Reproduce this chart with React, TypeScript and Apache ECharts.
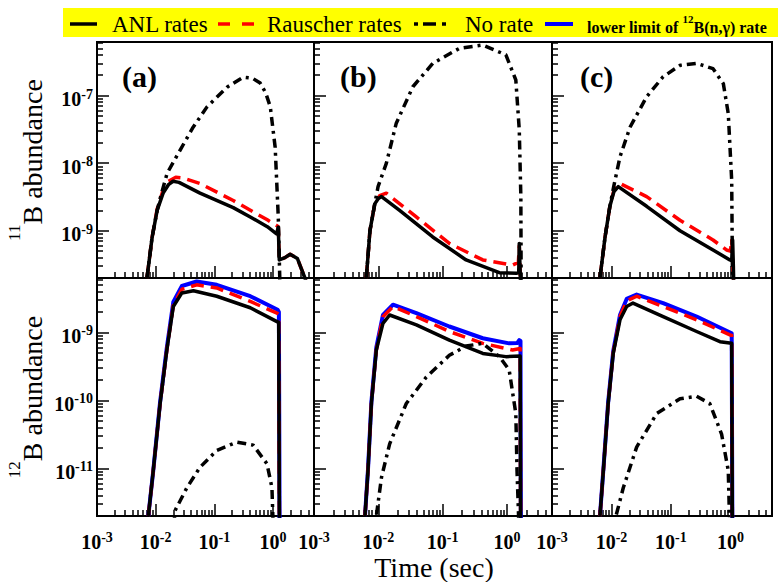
import React, { useEffect, useRef } from "react";
import * as echarts from "echarts";

// ---------- axis ranges and tick values ----------
const X_RANGE = [0.001, 5];
const Y_RANGE_11B = [2e-10, 6.2e-7];
const Y_RANGE_12B = [2e-12, 6.3e-9];
const X_MAJOR = [0.001, 0.01, 0.1, 1];
const Y_MAJOR_11B = [1e-9, 1e-8, 1e-7];
const Y_MAJOR_12B = [1e-11, 1e-10, 1e-9];
const PANEL_TAGS = ["(a)", "(b)", "(c)"];
const LEGEND_NAMES = ["ANL rates", "Rauscher rates", "No rate", "lower limit of 12B(n,γ) rate"];

// ---------- 11B abundance (top row): [time (s), abundance] ----------
const B11_ANL_a = [
  [0.0071, 2.0e-10], [0.008, 4.5e-10], [0.0087, 8.0e-10], [0.0106, 2.0e-9], [0.0134, 3.6e-9],
  [0.0165, 4.8e-9], [0.0198, 5.4e-9], [0.025, 5.2e-9], [0.057, 3.6e-9], [0.21, 2.2e-9],
  [0.41, 1.6e-9], [0.8, 1.15e-9], [1.15, 9.0e-10], [1.23, 1.13e-9], [1.28, 3.7e-10],
  [1.6, 4.0e-10], [1.96, 4.5e-10], [2.6, 3.9e-10], [3.5, 2.0e-10], [3.9, 1.5e-10],
];
const B11_RAU_a = [
  [0.0071, 2.0e-10], [0.008, 4.5e-10], [0.0087, 8.0e-10], [0.0106, 2.1e-9], [0.0134, 4.0e-9],
  [0.0165, 5.4e-9], [0.022, 6.2e-9], [0.03, 6.0e-9], [0.057, 5.0e-9], [0.21, 2.8e-9],
  [0.8, 1.45e-9], [1.15, 1.2e-9], [1.23, 1.15e-9], [1.28, 3.7e-10], [1.6, 4.0e-10],
  [1.96, 4.5e-10], [2.6, 3.9e-10], [3.5, 2.0e-10], [3.9, 1.5e-10],
];
const B11_NO_a = [
  [0.0071, 2.0e-10], [0.008, 4.5e-10], [0.0087, 8.0e-10], [0.0106, 2.0e-9], [0.0125, 3.5e-9],
  [0.0157, 7.1e-9], [0.026, 1.55e-8], [0.0435, 3.4e-8], [0.075, 6.8e-8], [0.165, 1.33e-7],
  [0.31, 1.87e-7], [0.45, 1.8e-7], [0.605, 1.53e-7], [0.75, 1.1e-7], [0.9, 6.8e-8],
  [1.09, 1.7e-8], [1.23, 1.6e-9], [1.33, 1.0e-10],
];
const B11_ANL_b = [
  [0.0065, 2.0e-10], [0.0074, 1.0e-9], [0.0088, 2.5e-9], [0.01, 3.0e-9], [0.0112, 3.2e-9],
  [0.0214, 2.0e-9], [0.07, 8.1e-10], [0.231, 3.7e-10], [0.76, 2.4e-10], [1.4, 2.35e-10],
  [1.52, 2.4e-10], [1.55, 6.5e-10], [1.6, 2.5e-10], [1.64, 1.0e-10],
];
const B11_RAU_b = [
  [0.0065, 2.0e-10], [0.0074, 1.0e-9], [0.0088, 2.5e-9], [0.0105, 3.3e-9], [0.0133, 3.6e-9],
  [0.0389, 1.6e-9], [0.127, 6.5e-10], [0.42, 3.7e-10], [1.22, 3.1e-10], [1.5, 3.4e-10],
  [1.55, 6.0e-10], [1.6, 2.5e-10], [1.64, 1.0e-10],
];
const B11_NO_b = [
  [0.0065, 2.0e-10], [0.0074, 1.0e-9], [0.0088, 2.5e-9], [0.0099, 4.5e-9], [0.0133, 9.9e-9],
  [0.019, 3.9e-8], [0.0344, 1.35e-7], [0.0703, 3.0e-7], [0.182, 5.0e-7], [0.42, 5.6e-7],
  [0.96, 4.0e-7], [1.37, 1.7e-7], [1.55, 3.1e-8], [1.64, 3.2e-9], [1.66, 1.0e-10],
];
const B11_ANL_c = [
  [0.0064, 2.0e-10], [0.0078, 8.1e-10], [0.0094, 2.3e-9], [0.011, 3.8e-9], [0.013, 4.5e-9],
  [0.039, 2.3e-9], [0.142, 1.0e-9], [0.51, 5.2e-10], [0.98, 3.7e-10], [1.05, 3.6e-10],
  [1.09, 7.3e-10], [1.12, 3.0e-10], [1.15, 1.0e-10],
];
const B11_RAU_c = [
  [0.0064, 2.0e-10], [0.0078, 8.1e-10], [0.0094, 2.3e-9], [0.011, 4.0e-9], [0.0139, 5.0e-9],
  [0.039, 3.2e-9], [0.142, 1.43e-9], [0.51, 7.3e-10], [0.86, 5.2e-10], [1.0, 5.0e-10],
  [1.05, 7.5e-10], [1.1, 3.0e-10], [1.15, 1.0e-10],
];
const B11_NO_c = [
  [0.0064, 2.0e-10], [0.0078, 8.1e-10], [0.0094, 2.3e-9], [0.0109, 4.5e-9], [0.0139, 1.24e-8],
  [0.0205, 3.4e-8], [0.039, 9.6e-8], [0.074, 1.9e-7], [0.142, 2.8e-7], [0.27, 3.0e-7],
  [0.51, 2.5e-7], [0.76, 1.5e-7], [0.92, 5.4e-8], [1.05, 5.6e-9], [1.09, 1.0e-10],
];

// ---------- 12B abundance (bottom row) ----------
const B12_ANL_a = [
  [0.0075, 2.0e-12], [0.0091, 9.3e-12], [0.0119, 9.0e-11], [0.0155, 5.5e-10], [0.02, 2.4e-9],
  [0.028, 3.8e-9], [0.044, 4.1e-9], [0.11, 3.4e-9], [0.41, 2.3e-9], [1.17, 1.44e-9],
  [1.25, 1.4e-9], [1.3, 1.0e-13],
];
const B12_RAU_a = [
  [0.0075, 2.0e-12], [0.0091, 9.3e-12], [0.0119, 9.0e-11], [0.0155, 5.5e-10], [0.02, 2.5e-9],
  [0.028, 4.3e-9], [0.05, 5.0e-9], [0.11, 4.5e-9], [0.41, 2.85e-9], [1.17, 1.92e-9],
  [1.25, 1.85e-9], [1.3, 1.0e-13],
];
const B12_LOW_a = [
  [0.0075, 2.0e-12], [0.0091, 9.3e-12], [0.0119, 9.5e-11], [0.0155, 6.0e-10], [0.02, 2.8e-9],
  [0.028, 4.8e-9], [0.05, 5.6e-9], [0.11, 5.0e-9], [0.41, 3.4e-9], [1.2, 2.15e-9],
  [1.26, 2.0e-9], [1.31, 1.0e-13],
];
const B12_NO_a = [
  [0.0205, 1.5e-12], [0.0214, 2.4e-12], [0.034, 5.2e-12], [0.057, 1.04e-11], [0.11, 1.84e-11],
  [0.242, 2.44e-11], [0.46, 2.2e-11], [0.79, 1.17e-11], [0.96, 5.2e-12], [1.02, 1.0e-12],
];
const B12_ANL_b = [
  [0.0062, 2.0e-12], [0.0069, 9.3e-12], [0.0078, 9.0e-11], [0.0093, 5.5e-10], [0.0118, 1.36e-9],
  [0.015, 1.8e-9], [0.039, 1.29e-9], [0.127, 7.7e-10], [0.42, 4.9e-10], [0.96, 4.4e-10],
  [1.6, 4.5e-10], [1.64, 1.0e-13],
];
const B12_RAU_b = [
  [0.0062, 2.0e-12], [0.0069, 9.3e-12], [0.0078, 9.0e-11], [0.0093, 5.5e-10], [0.0118, 1.7e-9],
  [0.0169, 2.4e-9], [0.039, 1.71e-9], [0.127, 1.03e-9], [0.42, 6.9e-10], [1.22, 5.5e-10],
  [1.6, 5.8e-10], [1.64, 1.0e-13],
];
const B12_LOW_b = [
  [0.0062, 2.0e-12], [0.0069, 9.5e-12], [0.0078, 9.5e-11], [0.0093, 6.0e-10], [0.0118, 1.8e-9],
  [0.0169, 2.55e-9], [0.039, 1.92e-9], [0.127, 1.22e-9], [0.42, 8.2e-10], [1.08, 6.9e-10],
  [1.45, 7.0e-10], [1.55, 7.7e-10], [1.62, 7.5e-10], [1.65, 1.0e-13],
];
const B12_NO_b = [
  [0.009, 1.0e-12], [0.0093, 2.0e-12], [0.0112, 7.4e-12], [0.015, 2.3e-11], [0.0272, 9.0e-11],
  [0.0556, 2.2e-10], [0.127, 4.6e-10], [0.231, 6.3e-10], [0.42, 6.9e-10], [0.76, 4.4e-10],
  [1.08, 2.8e-10], [1.37, 6.4e-11], [1.43, 9.3e-12], [1.55, 1.0e-12],
];
const B12_ANL_c = [
  [0.0064, 2.0e-12], [0.0073, 9.3e-12], [0.0088, 9.0e-11], [0.0107, 4.9e-10], [0.0139, 1.53e-9],
  [0.018, 2.4e-9], [0.023, 2.7e-9], [0.074, 1.71e-9], [0.27, 1.03e-9], [0.667, 7.3e-10],
  [1.05, 6.9e-10], [1.09, 1.0e-13],
];
const B12_RAU_c = [
  [0.0064, 2.0e-12], [0.0073, 9.3e-12], [0.0088, 9.0e-11], [0.0107, 5.0e-10], [0.0139, 1.7e-9],
  [0.018, 2.9e-9], [0.0265, 3.4e-9], [0.074, 2.4e-9], [0.27, 1.53e-9], [0.98, 9.2e-10],
  [1.05, 9.0e-10], [1.09, 1.0e-13],
];
const B12_LOW_c = [
  [0.0064, 2.0e-12], [0.0073, 9.5e-12], [0.0088, 9.5e-11], [0.0107, 5.3e-10], [0.0139, 1.8e-9],
  [0.018, 3.1e-9], [0.0265, 3.6e-9], [0.074, 2.7e-9], [0.27, 1.71e-9], [1.05, 9.7e-10],
  [1.09, 1.0e-13],
];
const B12_NO_c = [
  [0.0115, 1.0e-12], [0.0119, 2.0e-12], [0.0158, 5.2e-12], [0.0265, 2.06e-11], [0.0575, 6.4e-11],
  [0.142, 1.06e-10], [0.27, 1.15e-10], [0.45, 9.0e-11], [0.71, 3.2e-11], [0.92, 9.3e-12],
  [0.98, 1.0e-12],
];

// ---------- layout ----------
const FONT = "'Liberation Serif', 'Times New Roman', serif";
const GRIDS = [
  { left: 97, top: 42, width: 217, height: 236 },
  { left: 314, top: 42, width: 238, height: 236 },
  { left: 552, top: 42, width: 220, height: 236 },
  { left: 97, top: 278, width: 217, height: 238 },
  { left: 314, top: 278, width: 238, height: 238 },
  { left: 552, top: 278, width: 220, height: 238 },
];

const lg = (v: number) => Math.log10(v);
const toLog = (pts: number[][]) => pts.map(([t, v]) => [lg(t), lg(v)]);
const minorTicks = (lo: number, hi: number) => {
  const out: number[] = [];
  for (let e = Math.floor(lg(lo)); e <= Math.ceil(lg(hi)); e++) {
    for (let k = 2; k <= 9; k++) {
      const v = k * Math.pow(10, e);
      if (v > lo * 1.0001 && v <= hi * 1.0001) out.push(lg(v));
    }
  }
  return out;
};

const STYLES: Record<string, any> = {
  ANL: { color: "#000000", width: 3.5, type: "solid" },
  RAU: { color: "#ff0000", width: 3.5, type: [13, 7] },
  NO: { color: "#000000", width: 3.5, type: [9, 5, 3, 5] },
  LOW: { color: "#0000ff", width: 4, type: "solid" },
};

const labelRich = {
  m: { fontFamily: FONT, fontSize: 20, fontWeight: "bold", color: "#000", lineHeight: 22, verticalAlign: "bottom" },
  s: { fontFamily: FONT, fontSize: 14, fontWeight: "bold", color: "#000", lineHeight: 10, verticalAlign: "top" },
};
const powLabel = (v: number) => `{m|10}{s|${Math.round(v)}}`;

export default function App() {
  const ref = useRef<HTMLDivElement>(null);
  useEffect(() => {
    if (!ref.current) return;
    const chart = echarts.init(ref.current, undefined, { renderer: "svg" });

    const panels = [
      { series: [["RAU", B11_RAU_a], ["NO", B11_NO_a], ["ANL", B11_ANL_a]] },
      { series: [["RAU", B11_RAU_b], ["NO", B11_NO_b], ["ANL", B11_ANL_b]] },
      { series: [["RAU", B11_RAU_c], ["NO", B11_NO_c], ["ANL", B11_ANL_c]] },
      { series: [["LOW", B12_LOW_a], ["RAU", B12_RAU_a], ["NO", B12_NO_a], ["ANL", B12_ANL_a]] },
      { series: [["LOW", B12_LOW_b], ["RAU", B12_RAU_b], ["NO", B12_NO_b], ["ANL", B12_ANL_b]] },
      { series: [["LOW", B12_LOW_c], ["RAU", B12_RAU_c], ["NO", B12_NO_c], ["ANL", B12_ANL_c]] },
    ];

    const xAxes: any[] = [];
    const yAxes: any[] = [];
    const series: any[] = [];
    const tickStyle = { color: "#000", width: 1.5 };

    GRIDS.forEach((g, i) => {
      const bottomRow = i >= 3;
      const leftCol = i % 3 === 0;
      const yr = bottomRow ? Y_RANGE_12B : Y_RANGE_11B;
      const yMajor = (bottomRow ? Y_MAJOR_12B : Y_MAJOR_11B).map(lg);
      const xMajor = X_MAJOR.map(lg);
      const base = {
        type: "value",
        gridIndex: i,
        splitLine: { show: false },
        axisLine: { show: false, onZero: false },
      };
      xAxes.push({
        ...base,
        position: "bottom",
        min: lg(X_RANGE[0]),
        max: lg(X_RANGE[1]),
        axisTick: { show: true, inside: true, length: 12, lineStyle: tickStyle, customValues: xMajor },
        axisLabel: {
          show: bottomRow,
          customValues: xMajor,
          formatter: powLabel,
          rich: labelRich,
          margin: 14,
        },
      });
      xAxes.push({
        ...base,
        position: "bottom",
        min: lg(X_RANGE[0]),
        max: lg(X_RANGE[1]),
        axisTick: { show: true, inside: true, length: 6, lineStyle: tickStyle, customValues: minorTicks(X_RANGE[0], X_RANGE[1]) },
        axisLabel: { show: false },
      });
      yAxes.push({
        ...base,
        position: "left",
        min: lg(yr[0]),
        max: lg(yr[1]),
        axisTick: { show: true, inside: true, length: 12, lineStyle: tickStyle, customValues: yMajor },
        axisLabel: {
          show: leftCol,
          customValues: yMajor,
          formatter: powLabel,
          rich: labelRich,
          margin: 4,
          padding: [5, 0, 0, 0],
        },
      });
      yAxes.push({
        ...base,
        position: "left",
        min: lg(yr[0]),
        max: lg(yr[1]),
        axisTick: { show: true, inside: true, length: 6, lineStyle: tickStyle, customValues: minorTicks(yr[0], yr[1]) },
        axisLabel: { show: false },
      });
      panels[i].series.forEach(([kind, pts]: any) => {
        series.push({
          type: "line",
          name: kind,
          xAxisIndex: 2 * i,
          yAxisIndex: 2 * i,
          data: toLog(pts),
          showSymbol: false,
          symbol: "none",
          clip: true,
          silent: true,
          lineStyle: { ...STYLES[kind], cap: "butt", join: "round" },
        });
      });
    });

    const ly = 24;
    const legendText = (x: number, text: string) => ({
      type: "text",
      x,
      y: ly,
      style: { text, fontFamily: FONT, fontSize: 23, fill: "#000", align: "left", verticalAlign: "middle", textAlign: "left", textVerticalAlign: "middle" },
    });
    const seg = (x1: number, x2: number, color: string, w = 3.5) => ({
      type: "line",
      shape: { x1, y1: ly, x2, y2: ly },
      style: { stroke: color, lineWidth: w },
    });

    const graphic: any[] = [
      { type: "rect", shape: { x: 63, y: 8, width: 715, height: 29 }, style: { fill: "#ffff00" } },
      seg(70, 97, "#000"),
      legendText(112, LEGEND_NAMES[0]),
      seg(218, 230, "#ff0000"),
      seg(242, 254, "#ff0000"),
      legendText(267, LEGEND_NAMES[1]),
      seg(414, 418, "#000"),
      seg(423, 436, "#000"),
      seg(442, 446, "#000"),
      legendText(465, LEGEND_NAMES[2]),
      seg(545, 573, "#0000ff", 4),
      {
        type: "text",
        x: 587,
        y: ly,
        style: {
          text: "{m|lower limit of }{s|12}{m|B(n,γ) rate}",
          align: "left",
          verticalAlign: "middle",
          textAlign: "left",
          textVerticalAlign: "middle",
          rich: {
            m: { fontFamily: FONT, fontSize: 16, fontWeight: "bold", fill: "#000", color: "#000", lineHeight: 22, verticalAlign: "bottom" },
            s: { fontFamily: FONT, fontSize: 11, fontWeight: "bold", fill: "#000", color: "#000", lineHeight: 11, verticalAlign: "top" },
          },
        },
      },
      // y axis titles
      ...[
        { y: 160, sup: "11" },
        { y: 397, sup: "12" },
      ].map((t) => ({
        type: "text",
        x: 26,
        y: t.y,
        rotation: Math.PI / 2,
        style: {
          text: `{s|${t.sup}}{m|B abundance}`,
          align: "center",
          verticalAlign: "middle",
          textAlign: "center",
          textVerticalAlign: "middle",
          rich: {
            m: { fontFamily: FONT, fontSize: 28, fill: "#000", color: "#000", lineHeight: 40, verticalAlign: "bottom" },
            s: { fontFamily: FONT, fontSize: 17, fill: "#000", color: "#000", lineHeight: 12, verticalAlign: "top" },
          },
        },
      })),
      {
        type: "text",
        x: 434,
        y: 567,
        style: { text: "Time (sec)", fontFamily: FONT, fontSize: 28, fill: "#000", align: "center", verticalAlign: "middle", textAlign: "center", textVerticalAlign: "middle" },
      },
      ...PANEL_TAGS.map((tag, k) => ({
        type: "text",
        x: [122, 340, 580][k],
        y: 76,
        style: { text: tag, fontFamily: FONT, fontSize: 30, fontWeight: "bold", fill: "#000", align: "left", verticalAlign: "middle", textAlign: "left", textVerticalAlign: "middle" },
      })),
    ];

    chart.setOption({
      animation: false,
      backgroundColor: "#ffffff",
      grid: GRIDS.map((g) => ({ ...g, show: true, borderColor: "#000", borderWidth: 2, backgroundColor: "transparent", containLabel: false })),
      xAxis: xAxes,
      yAxis: yAxes,
      series,
      graphic,
    });
    return () => chart.dispose();
  }, []);

  return <div ref={ref} style={{ position: "fixed", left: 0, top: 0, width: 781, height: 582 }} />;
}
